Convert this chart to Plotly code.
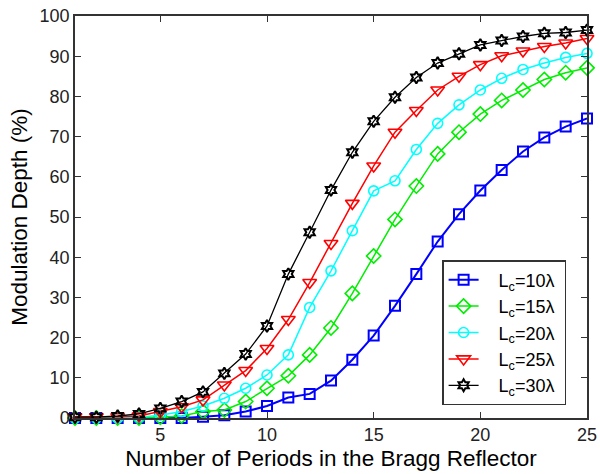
import plotly.graph_objects as go

periods = list(range(1, 26))

lc10 = [0.0, 0.0, 0.0, 0.0, 0.0, 0.0, 0.3, 0.7, 1.6, 3.0, 5.1, 6.0, 9.3, 14.5, 20.5,
        27.9, 35.8, 43.9, 50.7, 56.6, 61.7, 66.3, 69.8, 72.5, 74.5]
lc15 = [0.0, 0.0, 0.0, 0.0, 0.2, 0.5, 1.6, 2.0, 4.1, 7.4, 10.5, 15.7, 22.4, 31.0, 40.3,
        49.4, 57.7, 65.7, 71.1, 75.6, 79.0, 81.6, 84.2, 85.9, 87.1]
lc20 = [0.0, 0.0, 0.0, 0.2, 0.7, 1.6, 3.0, 4.9, 7.4, 10.7, 15.7, 27.5, 36.6, 46.6, 56.5,
        59.0, 66.8, 73.3, 77.9, 81.6, 84.5, 86.7, 88.3, 89.7, 90.7]
lc25 = [0.3, 0.3, 0.3, 0.5, 1.6, 2.8, 4.5, 8.2, 11.8, 17.3, 24.5, 33.7, 43.4, 53.4, 62.7,
        71.1, 76.5, 81.6, 85.0, 87.9, 90.1, 91.3, 92.4, 93.3, 94.4]
lc30 = [0.2, 0.2, 0.5, 1.0, 2.4, 4.1, 6.5, 11.1, 15.9, 22.9, 35.8, 46.2, 56.7, 66.1, 73.8,
        79.8, 84.7, 88.3, 90.6, 92.8, 93.9, 94.9, 95.7, 95.9, 96.5]

series_names = ["L<sub>c</sub>=10λ", "L<sub>c</sub>=15λ", "L<sub>c</sub>=20λ",
                "L<sub>c</sub>=25λ", "L<sub>c</sub>=30λ"]
series_vals = [lc10, lc15, lc20, lc25, lc30]
colors = ["#0000ff", "#00ee00", "#00ffff", "#ff0000", "#000000"]
symbols = ["square-open", "diamond-open", "circle-open", "triangle-down-open", "hexagram-open"]
sizes = [10, 11, 10, 12, 9]
widths = [2, 1.5, 1.5, 1.5, 1.3]
mwidths = [2, 1.6, 1.6, 1.6, 2]

FONT = "Liberation Sans, Arial"

fig = go.Figure()
for name, vals, c, s, sz, w, mw in zip(series_names, series_vals, colors, symbols, sizes, widths, mwidths):
    fig.add_trace(go.Scatter(
        x=periods, y=vals, name="&nbsp;&nbsp;&nbsp;" + name + "&nbsp;", mode="lines+markers",
        line=dict(color=c, width=w),
        marker=dict(symbol=s, size=sz, color=c, line=dict(color=c, width=mw)),
        cliponaxis=False,
    ))

axis_common = dict(
    showgrid=False, zeroline=False, showline=True, linecolor="#333333", linewidth=1.5,
    mirror="ticks", ticks="inside", ticklen=6, tickcolor="#333333", automargin=False,
    tickfont=dict(family=FONT, size=18, color="#222222"),
)

fig.update_layout(
    width=600, height=474,
    margin=dict(l=75, r=13, t=16, b=56),
    paper_bgcolor="white", plot_bgcolor="white",
    xaxis=dict(range=[1, 25], tickvals=[5, 10, 15, 20, 25],
               title=dict(text="Number of Periods in the Bragg Reflector",
                          font=dict(family=FONT, size=22.5, color="#000000"),
                          standoff=6),
               **axis_common),
    yaxis=dict(range=[0, 100], tickvals=list(range(0, 101, 10)),
               title=dict(text="Modulation Depth (%)",
                          font=dict(family=FONT, size=22.5, color="#000000"),
                          standoff=6),
               **axis_common),
    legend=dict(x=0.717, y=0.393, xanchor="left", yanchor="top",
                bgcolor="white", bordercolor="#333333", borderwidth=1.5,
                font=dict(family=FONT, size=18, color="#000000"),
                tracegroupgap=0),
    showlegend=True,
)

fig.write_html("out.html")
